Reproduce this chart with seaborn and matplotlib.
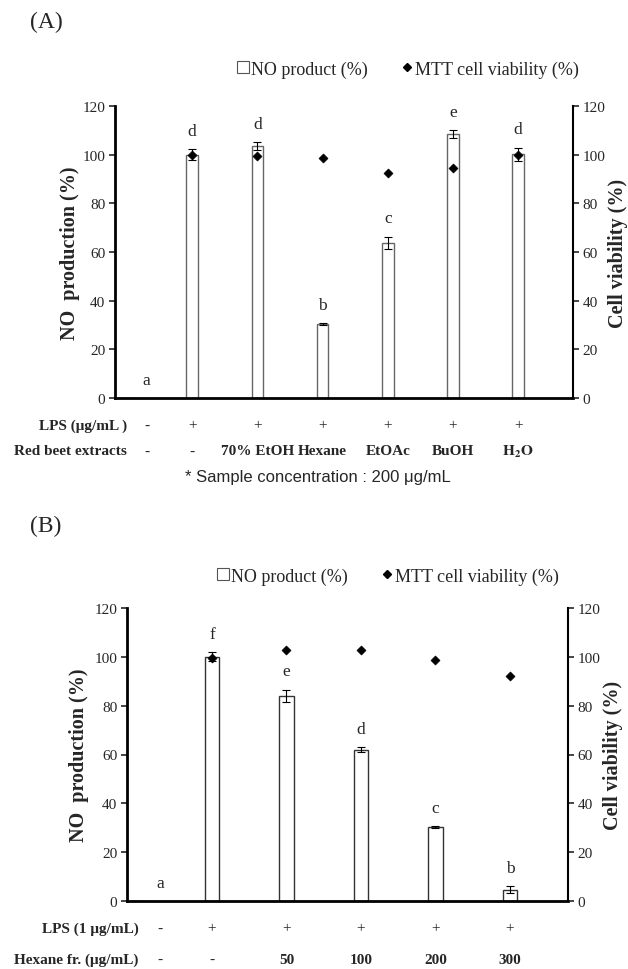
import matplotlib
matplotlib.use('Agg')
import matplotlib.pyplot as plt
import seaborn as sns
import numpy as np
import pandas as pd
from matplotlib.lines import Line2D

sns.set_style('white')
plt.rcParams['font.family'] = ['Liberation Serif', 'DejaVu Serif']
plt.rcParams['mathtext.fontset'] = 'stix'

# (A) red beet extracts, 200 ug/mL
a_groups = ['Control', 'LPS', '70% EtOH', 'Hexane', 'EtOAc', 'BuOH', 'H2O']
a_no = [0, 100.0, 103.7, 30.3, 63.8, 108.5, 100.2]
a_no_err = [0, 2.3, 1.6, 0.4, 2.5, 1.5, 2.7]
a_mtt = [np.nan, 99.8, 99.6, 98.8, 92.6, 94.6, 99.8]
a_letters = ['a', 'd', 'd', 'b', 'c', 'e', 'd']
a_lps = ['-', '+', '+', '+', '+', '+', '+']
a_extract = ['-', '-', '70% EtOH', 'Hexane', 'EtOAc', 'BuOH', r'$\mathbf{H_2O}$']

# (B) hexane fraction dose
b_groups = ['Control', 'LPS', '50', '100', '200', '300']
b_no = [0, 100.1, 84.1, 62.0, 30.3, 4.7]
b_no_err = [0, 1.8, 2.4, 1.0, 0.3, 1.4]
b_mtt = [np.nan, 99.6, 102.9, 103.0, 98.9, 92.1]
b_letters = ['a', 'f', 'e', 'd', 'c', 'b']
b_lps = ['-', '+', '+', '+', '+', '+']
b_hexane = ['-', '-', '50', '100', '200', '300']

yticks = [0, 20, 40, 60, 80, 100, 120]

fig = plt.figure(figsize=(6.28, 9.70), dpi=100)


def draw_panel(rect, groups, no, err, mtt, letters, rows, row_names, xlim,
               bar_w, edge, row_x, row_y, legend_xy, lpad):
    ax = fig.add_axes(rect)
    df = pd.DataFrame({'group': groups, 'no': no})
    sns.barplot(data=df, x='group', y='no', order=groups, width=bar_w,
                color='white', edgecolor=edge, linewidth=1.0, saturation=1,
                errorbar=None, ax=ax)
    pos = np.arange(len(groups))
    e = np.array(err, dtype=float)
    mask = e > 0
    ax.errorbar(pos[mask], np.array(no)[mask], yerr=e[mask], fmt='none',
                ecolor='black', elinewidth=0.8, capsize=3, capthick=0.8)
    sns.scatterplot(x=pos, y=mtt, marker='D', s=22, color='black',
                    edgecolor='black', ax=ax, zorder=5)

    # significance letters
    for i, (v, ev, lt) in enumerate(zip(no, err, letters)):
        xi = i if v > 0 else i + 0.3
        ax.text(xi, v + ev + 7.5, lt, ha='center', va='center', fontsize=12.5)

    ax.set_xlim(*xlim)
    ax.set_ylim(0, 120)
    ax.set_yticks(yticks)
    ax.set_xticks([])
    ax.set_xlabel('')
    ax.set_ylabel('NO  production (%)', fontsize=14.5, fontweight='bold',
                  labelpad=lpad)
    ax.tick_params(axis='y', direction='out', length=4, width=1.2,
                   labelsize=11, left=True, pad=3)
    for s in ['left', 'bottom']:
        ax.spines[s].set_linewidth(2)
        ax.spines[s].set_color('black')
    ax.spines['top'].set_visible(False)
    ax.spines['right'].set_visible(False)

    ax2 = ax.twinx()
    ax2.set_ylim(0, 120)
    ax2.set_yticks(yticks)
    ax2.tick_params(axis='y', direction='out', length=4, width=1.2,
                    labelsize=11, right=True, pad=3)
    ax2.set_ylabel('Cell viability (%)', fontsize=14.5, fontweight='bold',
                   labelpad=2)
    ax2.spines['right'].set_linewidth(1.5)
    ax2.spines['right'].set_color('black')
    for s in ['top', 'left', 'bottom']:
        ax2.spines[s].set_visible(False)
    ax2.grid(False)

    # treatment table under the axis
    trans = ax.get_xaxis_transform()
    for r, (name, row) in enumerate(zip(row_names, rows)):
        y = row_y[r]
        ax.text(row_x, y, name, transform=ax.transAxes, ha='right',
                va='center', fontsize=11, fontweight='bold')
        for i, lab in enumerate(row):
            xi = i if no[i] > 0 else i + 0.3
            fw = 'normal' if lab in ('+', '-') else 'bold'
            ax.text(xi, y, lab, transform=trans, ha='center', va='center',
                    fontsize=11, fontweight=fw)

    handles = [Line2D([], [], marker='s', linestyle='none',
                      markerfacecolor='white', markeredgecolor='#555555',
                      markeredgewidth=0.8, markersize=8),
               Line2D([], [], marker='D', linestyle='none', color='black',
                      markersize=4.5)]
    fig.legend(handles, ['NO product (%)', 'MTT cell viability (%)'],
               loc='center', bbox_to_anchor=legend_xy, ncol=2, frameon=False,
               handlelength=0.7, handletextpad=0.1, columnspacing=1.8,
               prop={'size': 13})
    return ax


draw_panel([115 / 628, 1 - 399 / 970, 458 / 628, 292 / 970],
           a_groups, a_no, a_no_err, a_mtt, a_letters,
           [a_lps, a_extract], ['LPS (μg/mL )', 'Red beet extracts'],
           (-0.184, 6.84), 0.18, '#666666', 0.026, [-0.0925, -0.1815],
           (408 / 628, 1 - 70 / 970), 2)

draw_panel([127 / 628, 1 - 902 / 970, 441 / 628, 293 / 970],
           b_groups, b_no, b_no_err, b_mtt, b_letters,
           [b_lps, b_hexane], ['LPS (1 μg/mL)', 'Hexane fr. (μg/mL)'],
           (-0.141, 5.78), 0.19, '#333333', 0.026, [-0.092, -0.198],
           (388 / 628, 1 - 577 / 970), 4)

fig.text(30 / 628, 1 - 22 / 970, '(A)', fontsize=17, ha='left', va='center')
fig.text(30 / 628, 1 - 526 / 970, '(B)', fontsize=17, ha='left', va='center')
fig.text(318 / 628, 1 - 478 / 970, '* Sample concentration : 200 μg/mL',
         fontsize=12, ha='center', va='center',
         family=['Liberation Sans Narrow', 'Liberation Sans', 'DejaVu Sans'])

fig.savefig('out.png', dpi=100)
